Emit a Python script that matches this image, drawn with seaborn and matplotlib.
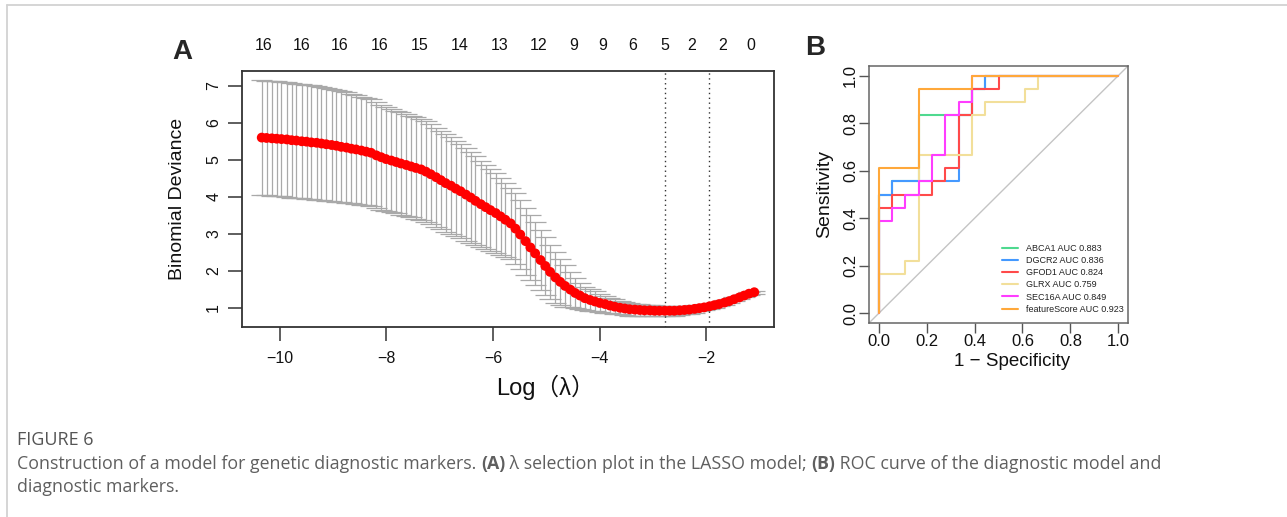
import matplotlib
matplotlib.use("Agg")
import matplotlib.pyplot as plt
from matplotlib.lines import Line2D
import seaborn as sns


# ---- Data: panel A (cv.glmnet curve) ----------------------------------####

log_lambda = [-10.34, -10.25, -10.15, -10.06, -9.97, -9.87, -9.78, -9.69, -9.59, -9.50,
              -9.41, -9.31, -9.22, -9.13, -9.03, -8.94, -8.85, -8.75, -8.66, -8.57,
              -8.47, -8.38, -8.29, -8.19, -8.10, -8.01, -7.91, -7.82, -7.73, -7.63,
              -7.54, -7.45, -7.35, -7.26, -7.17, -7.07, -6.98, -6.89, -6.79, -6.70,
              -6.61, -6.51, -6.42, -6.33, -6.23, -6.14, -6.05, -5.95, -5.86, -5.77,
              -5.67, -5.58, -5.49, -5.39, -5.30, -5.21, -5.11, -5.02, -4.93, -4.83,
              -4.74, -4.65, -4.55, -4.46, -4.37, -4.28, -4.18, -4.09, -4.00, -3.90,
              -3.81, -3.72, -3.62, -3.53, -3.44, -3.34, -3.25, -3.16, -3.06, -2.97,
              -2.88, -2.78, -2.69, -2.60, -2.50, -2.41, -2.32, -2.22, -2.13, -2.04,
              -1.94, -1.85, -1.76, -1.66, -1.57, -1.48, -1.38, -1.29, -1.20, -1.10]

deviance = [5.60, 5.59, 5.58, 5.57, 5.56, 5.55, 5.53, 5.52, 5.50, 5.49,
            5.47, 5.46, 5.44, 5.42, 5.40, 5.38, 5.35, 5.33, 5.30, 5.28,
            5.25, 5.22, 5.19, 5.12, 5.07, 5.02, 4.98, 4.94, 4.90, 4.86,
            4.82, 4.78, 4.74, 4.68, 4.61, 4.53, 4.45, 4.37, 4.30, 4.22,
            4.15, 4.06, 3.98, 3.89, 3.80, 3.72, 3.64, 3.56, 3.47, 3.38,
            3.28, 3.14, 2.98, 2.80, 2.63, 2.47, 2.29, 2.13, 1.97, 1.82,
            1.70, 1.59, 1.49, 1.40, 1.33, 1.26, 1.21, 1.17, 1.13, 1.10,
            1.06, 1.03, 1.00, 0.98, 0.96, 0.95, 0.94, 0.93, 0.93, 0.92,
            0.92, 0.92, 0.92, 0.92, 0.93, 0.94, 0.95, 0.97, 0.99, 1.01,
            1.04, 1.07, 1.10, 1.14, 1.18, 1.23, 1.28, 1.33, 1.38, 1.42]

deviance_sd = [1.55, 1.55, 1.55, 1.55, 1.55, 1.55, 1.55, 1.54, 1.54, 1.54,
               1.54, 1.54, 1.53, 1.53, 1.52, 1.51, 1.50, 1.49, 1.48, 1.47,
               1.46, 1.45, 1.44, 1.43, 1.42, 1.41, 1.40, 1.39, 1.38, 1.38,
               1.37, 1.37, 1.36, 1.36, 1.35, 1.34, 1.33, 1.32, 1.31, 1.29,
               1.27, 1.25, 1.23, 1.20, 1.17, 1.14, 1.10, 1.07, 1.04, 1.00,
               0.97, 0.95, 0.93, 0.91, 0.89, 0.86, 0.82, 0.78, 0.74, 0.69,
               0.63, 0.56, 0.48, 0.41, 0.35, 0.31, 0.29, 0.27, 0.25, 0.23,
               0.21, 0.20, 0.18, 0.17, 0.17, 0.16, 0.16, 0.15, 0.15, 0.15,
               0.14, 0.14, 0.14, 0.13, 0.13, 0.12, 0.11, 0.10, 0.09, 0.08,
               0.07, 0.07, 0.06, 0.06, 0.05, 0.05, 0.05, 0.04, 0.04, 0.04]

lambda_min = -2.78
lambda_1se = -1.94

# number of nonzero coefs shown on top axis
nz_pos = [-10.31, -9.60, -8.87, -8.12, -7.38, -6.63, -5.88, -5.14,
          -4.49, -3.95, -3.39, -2.78, -2.27, -1.69, -1.16]
nz_labels = ['16', '16', '16', '16', '15', '14', '13', '12',
             '9', '9', '6', '5', '2', '2', '0']


# ---- Data: panel B (ROC curves) ---------------------------------------####

roc_names = ['ABCA1', 'DGCR2', 'GFOD1', 'GLRX', 'SEC16A', 'featureScore']
roc_auc = ['0.883', '0.836', '0.824', '0.759', '0.849', '0.923']
roc_colors = ['#4fd98f', '#4499ff', '#ff4a4a', '#f2df9a', '#ff3dff', '#ffa83a']

abca1_fpr = [0, 0, 0.0556, 0.0556, 0.1667, 0.1667, 0.3889, 0.3889, 0.4444, 0.4444, 1]
abca1_tpr = [0, 0.5, 0.5, 0.5556, 0.5556, 0.8333, 0.8333, 0.9444, 0.9444, 1, 1]

dgcr2_fpr = [0, 0, 0.0556, 0.0556, 0.3333, 0.3333, 0.3889, 0.3889, 0.4444, 0.4444, 1]
dgcr2_tpr = [0, 0.5, 0.5, 0.5556, 0.5556, 0.8333, 0.8333, 0.9444, 0.9444, 1, 1]

gfod1_fpr = [0, 0, 0.0556, 0.0556, 0.2222, 0.2222, 0.2778, 0.2778, 0.3333, 0.3333,
             0.3889, 0.3889, 0.5, 0.5, 1]
gfod1_tpr = [0, 0.4444, 0.4444, 0.5, 0.5, 0.5556, 0.5556, 0.6111, 0.6111, 0.8333,
             0.8333, 0.9444, 0.9444, 1, 1]

glrx_fpr = [0, 0, 0.1111, 0.1111, 0.1667, 0.1667, 0.3889, 0.3889, 0.4444, 0.4444,
            0.6111, 0.6111, 0.6667, 0.6667, 1]
glrx_tpr = [0, 0.1667, 0.1667, 0.2222, 0.2222, 0.6667, 0.6667, 0.8333, 0.8333, 0.8889,
            0.8889, 0.9444, 0.9444, 1, 1]

sec16a_fpr = [0, 0, 0.0556, 0.0556, 0.1111, 0.1111, 0.1667, 0.1667, 0.2222, 0.2222,
              0.2778, 0.2778, 0.3333, 0.3333, 0.3889, 0.3889, 1]
sec16a_tpr = [0, 0.3889, 0.3889, 0.4444, 0.4444, 0.5, 0.5, 0.5556, 0.5556, 0.6667,
              0.6667, 0.8333, 0.8333, 0.8889, 0.8889, 1, 1]

score_fpr = [0, 0, 0.1667, 0.1667, 0.3889, 0.3889, 1]
score_tpr = [0, 0.6111, 0.6111, 0.9444, 0.9444, 1, 1]

roc_fpr = [abca1_fpr, dgcr2_fpr, gfod1_fpr, glrx_fpr, sec16a_fpr, score_fpr]
roc_tpr = [abca1_tpr, dgcr2_tpr, gfod1_tpr, glrx_tpr, sec16a_tpr, score_tpr]


# ---- Style ------------------------------------------------------------####

sns.set_theme(style='white')
plt.rcParams['font.family'] = ['Liberation Sans', 'Noto Sans CJK SC', 'DejaVu Sans']
plt.rcParams['axes.unicode_minus'] = True

W, H = 1287, 517
fig = plt.figure(figsize=(W / 100, H / 100), dpi=100)
fig.patch.set_facecolor('white')


def px_rect(left, top, right, bottom):
    return [left / W, 1 - bottom / H, (right - left) / W, (bottom - top) / H]


# ---- Panel A ----------------------------------------------------------####

ax_a = fig.add_axes(px_rect(242, 71, 774, 327))
upper = [m + s for m, s in zip(deviance, deviance_sd)]
lower = [m - s for m, s in zip(deviance, deviance_sd)]
xlim = (-10.71, -0.73)
barw = 0.02 * (xlim[1] - xlim[0])
bar_col = '#a9a9a9'
ax_a.vlines(log_lambda, lower, upper, color=bar_col, lw=0.9, zorder=1)
ax_a.hlines(upper, [x - barw for x in log_lambda], [x + barw for x in log_lambda],
            color=bar_col, lw=0.9, zorder=1)
ax_a.hlines(lower, [x - barw for x in log_lambda], [x + barw for x in log_lambda],
            color=bar_col, lw=0.9, zorder=1)
sns.scatterplot(x=log_lambda, y=deviance, color='red', s=50, edgecolor='none',
                linewidth=0, ax=ax_a, zorder=3)
for v in [lambda_min, lambda_1se]:
    ax_a.axvline(v, color='#333333', lw=1, ls=(0, (1, 2.5)), zorder=2)

ax_a.set_xlim(*xlim)
ax_a.set_ylim(0.48, 7.40)
ax_a.set_xticks([-10, -8, -6, -4, -2])
ax_a.set_yticks([1, 2, 3, 4, 5, 6, 7])
ax_a.tick_params(axis='both', which='major', length=10, width=1.1, color='#333333',
                 labelsize=11.5, labelcolor='#111111', left=True, bottom=True)
ax_a.tick_params(axis='x', pad=7)
ax_a.tick_params(axis='y', pad=5)
for lab in ax_a.get_yticklabels():
    lab.set_rotation(90)
    lab.set_va('center')
for sp in ax_a.spines.values():
    sp.set_color('#333333')
    sp.set_linewidth(1.3)

ax_a.set_ylabel('Binomial Deviance', fontsize=14, color='#111111', va='center')
ax_a.yaxis.set_label_coords((177 - 242) / 532, 0.5)
ax_a.set_xlabel('Log（λ）', fontsize=17, color='#111111', va='center', ha='center')
ax_a.xaxis.set_label_coords((545 - 242) / 532, -(387 - 327) / 256)

for pos, lab in zip(nz_pos, nz_labels):
    ax_a.text(pos, 1 + 26 / 256, lab, transform=ax_a.get_xaxis_transform(),
              ha='center', va='center', fontsize=11.5, color='#111111')

fig.text(182 / W, 1 - 52 / H, 'A', fontsize=20, fontweight='bold', ha='center', va='center')


# ---- Panel B ----------------------------------------------------------####

ax_b = fig.add_axes(px_rect(869, 66, 1128, 323))
ax_b.axline((0, 0), (1, 1), color='#c4c4c4', lw=1, zorder=1)
for name, auc, col, fx, ty in zip(roc_names, roc_auc, roc_colors, roc_fpr, roc_tpr):
    sns.lineplot(x=fx, y=ty, sort=False, estimator=None, color=col, lw=1.5,
                 label=f'{name} AUC {auc}', ax=ax_b, zorder=2)

ax_b.set_xlim(-0.04, 1.04)
ax_b.set_ylim(-0.04, 1.04)
ticks = [0.0, 0.2, 0.4, 0.6, 0.8, 1.0]
ax_b.set_xticks(ticks)
ax_b.set_yticks(ticks)
ax_b.set_xticklabels([f'{t:.1f}' for t in ticks])
ax_b.set_yticklabels([f'{t:.1f}' for t in ticks])
ax_b.tick_params(axis='both', which='major', length=7, width=1, color='#555555',
                 labelsize=12, labelcolor='#111111', left=True, bottom=True, pad=1)
for lab in ax_b.get_yticklabels():
    lab.set_rotation(90)
    lab.set_va('center')
for sp in ax_b.spines.values():
    sp.set_color('#666666')
    sp.set_linewidth(1.1)

ax_b.set_ylabel('Sensitivity', fontsize=14, color='#111111', va='center')
ax_b.yaxis.set_label_coords((825 - 869) / 259, 0.5)
ax_b.set_xlabel('1 − Specificity', fontsize=13.5, color='#111111', va='center')
ax_b.xaxis.set_label_coords((1012 - 869) / 259, -(361 - 323) / 257)

leg = ax_b.legend(loc='upper left', bbox_to_anchor=((1002 - 869) / 259, 1 - (244 - 66) / 257),
                  frameon=False, fontsize=6.5, handlelength=1.8, handletextpad=0.9,
                  labelspacing=0.35, borderpad=0, borderaxespad=0)
for t in leg.get_texts():
    t.set_color('#222222')

fig.text(815 / W, 1 - 48 / H, 'B', fontsize=20, fontweight='bold', ha='center', va='center')


# ---- Page frame and caption -------------------------------------------####

fig.add_artist(Line2D([6.5 / W, 1], [1 - 5 / H, 1 - 5 / H], transform=fig.transFigure,
                      color='#d2d2d2', lw=1.3))
fig.add_artist(Line2D([6.5 / W, 6.5 / W], [0, 1 - 5 / H], transform=fig.transFigure,
                      color='#d2d2d2', lw=1.3))

cap_font = ['Open Sans', 'DejaVu Sans']
cap_col = '#5f5f5f'
cap_size = 12.8
fig.text(17 / W, 1 - 440 / H, 'FIGURE 6', fontsize=13, color='#555555',
         family=cap_font, ha='left', va='center')

renderer = fig.canvas.get_renderer()


def caption_line(parts, y_px, x_px=17):
    x = x_px / W
    for txt, bold in parts:
        t = fig.text(x, 1 - y_px / H, txt, fontsize=cap_size, color=cap_col, family=cap_font,
                     fontweight='bold' if bold else 'normal', ha='left', va='center')
        bb = t.get_window_extent(renderer=renderer)
        x = bb.x1 / W


caption_line([('Construction of a model for genetic diagnostic markers. ', False),
              ('(A)', True),
              (' λ selection plot in the LASSO model; ', False),
              ('(B)', True),
              (' ROC curve of the diagnostic model and', False)], 464)
caption_line([('diagnostic markers.', False)], 487)

fig.savefig('out.png', dpi=100)
